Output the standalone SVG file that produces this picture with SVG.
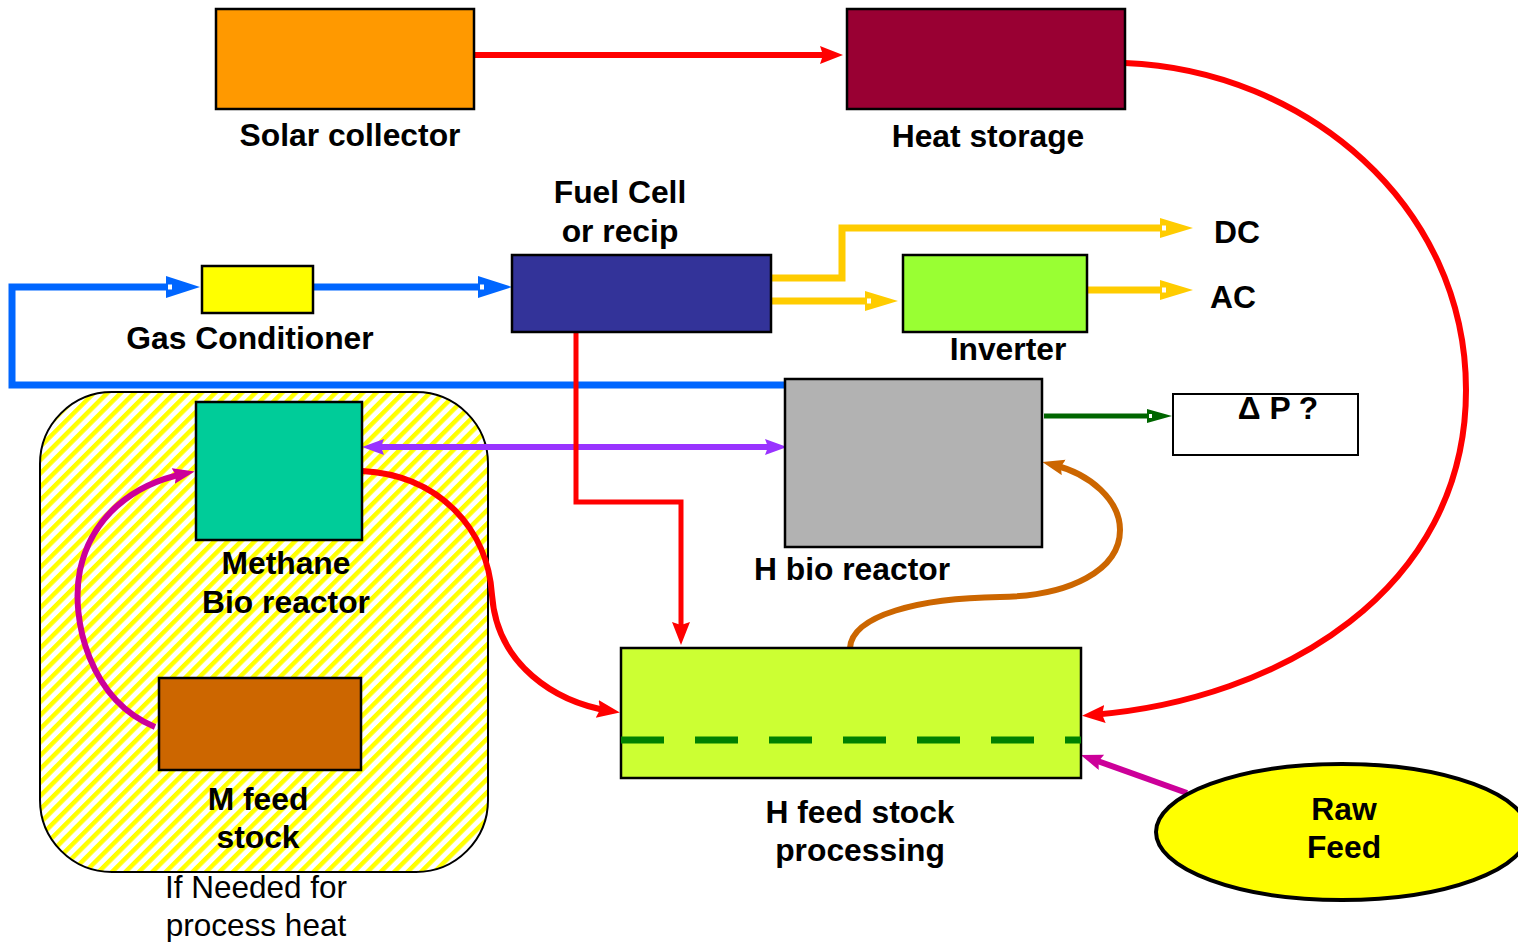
<svg xmlns="http://www.w3.org/2000/svg" width="1518" height="942" viewBox="0 0 1518 942">
<style>
.t{font-family:"Liberation Sans",Arial,sans-serif;font-weight:bold;font-size:31.8px;fill:#000;text-anchor:middle}
.n{font-family:"Liberation Sans",Arial,sans-serif;font-size:31.5px;fill:#000;text-anchor:middle}
.box{stroke:#000;stroke-width:2.5}
.c{fill:none;stroke-linecap:butt;stroke-linejoin:miter}
</style>
<defs>
<pattern id="hatch" width="9.5" height="9.5" patternUnits="userSpaceOnUse" patternTransform="rotate(45)">
<rect width="9.5" height="9.5" fill="#FFFFFF"/>
<rect width="4.5" height="9.5" fill="#FFFF00"/>
</pattern>
<marker id="mRed" markerUnits="userSpaceOnUse" markerWidth="26" markerHeight="20" refX="13" refY="9" orient="auto">
<path d="M0,0 L23,9 L0,18 L3,9 z" fill="#FF0000"/>
</marker>
<marker id="mBlue" markerUnits="userSpaceOnUse" markerWidth="36" markerHeight="24" refX="14" refY="11" orient="auto">
<path d="M0,0 L34,11 L0,22 z" fill="#0066FF"/>
<rect x="2" y="8.5" width="4" height="5" fill="#FFFFFF"/>
</marker>
<marker id="mYel" markerUnits="userSpaceOnUse" markerWidth="34" markerHeight="22" refX="14" refY="10" orient="auto">
<path d="M0,0 L33,10 L0,20 z" fill="#FFCC00"/>
<rect x="2" y="7.5" width="4" height="5" fill="#FFFFFF"/>
</marker>
<marker id="mGrn" markerUnits="userSpaceOnUse" markerWidth="26" markerHeight="16" refX="10" refY="7" orient="auto">
<path d="M0,0 L25,7 L0,14 z" fill="#006600"/>
<rect x="2" y="5" width="3" height="4" fill="#FFFFFF"/>
</marker>
<marker id="mPur" markerUnits="userSpaceOnUse" markerWidth="24" markerHeight="18" refX="10" refY="8" orient="auto-start-reverse">
<path d="M0,0 L22,8 L0,16 L3,8 z" fill="#9933FF"/>
</marker>
<marker id="mOra" markerUnits="userSpaceOnUse" markerWidth="24" markerHeight="18" refX="10" refY="8" orient="auto">
<path d="M0,0 L22,8 L0,16 L3,8 z" fill="#CC6600"/>
</marker>
<marker id="mMag" markerUnits="userSpaceOnUse" markerWidth="24" markerHeight="18" refX="10" refY="8" orient="auto">
<path d="M0,0 L22,8 L0,16 L3,8 z" fill="#CC0099"/>
</marker>
</defs>
<rect width="1518" height="942" fill="#FFFFFF"/>

<g id="process-heat-zone">
<rect x="40" y="392" width="448" height="480" rx="72" ry="72" fill="url(#hatch)" stroke="#000" stroke-width="2"/>
<text class="n" x="256" y="898">If Needed for</text>
<text class="n" x="256" y="936">process heat</text>
</g>

<g id="connectors">
<path class="c" d="M474,55 H833" stroke="#FF0000" stroke-width="6" marker-end="url(#mRed)"/>
<path class="c" d="M1125,63 C1305,70 1466,205 1466,390 C1466,590 1280,700 1092,715" stroke="#FF0000" stroke-width="6" marker-end="url(#mRed)"/>
<path class="c" d="M785,385 H12 V287 H180" stroke="#0066FF" stroke-width="7" marker-end="url(#mBlue)"/>
<path class="c" d="M313,287 H492" stroke="#0066FF" stroke-width="7" marker-end="url(#mBlue)"/>
<path class="c" d="M771,278 H842 V228 H1174" stroke="#FFCC00" stroke-width="7" marker-end="url(#mYel)"/>
<path class="c" d="M771,301 H879" stroke="#FFCC00" stroke-width="7" marker-end="url(#mYel)"/>
<path class="c" d="M1087,290 H1174" stroke="#FFCC00" stroke-width="7" marker-end="url(#mYel)"/>
<path class="c" d="M1044,416 H1157" stroke="#006600" stroke-width="5" marker-end="url(#mGrn)"/>
<path class="c" d="M374,447 H775" stroke="#9933FF" stroke-width="6" marker-start="url(#mPur)" marker-end="url(#mPur)"/>
<path class="c" d="M576,332 V502 H681 V635" stroke="#FF0000" stroke-width="5" marker-end="url(#mRed)"/>
<path class="c" d="M362,471 C440,475 488,530 492,595 C497,665 555,702 610,711" stroke="#FF0000" stroke-width="6" marker-end="url(#mRed)"/>
<path class="c" d="M155,727 C90,700 70,620 80,570 C92,515 135,484 183,474" stroke="#CC0099" stroke-width="6" marker-end="url(#mMag)"/>
<path class="c" d="M1187,793 L1092,759" stroke="#CC0099" stroke-width="6" marker-end="url(#mMag)"/>
<path class="c" d="M850,648 C852,615 920,598 1000,597 C1070,596 1120,570 1120,530 C1120,500 1090,474 1054,465" stroke="#CC6600" stroke-width="6" marker-end="url(#mOra)"/>
</g>

<g id="solar-collector">
<rect class="box" x="216" y="9" width="258" height="100" fill="#FF9900"/>
<text class="t" x="350" y="146">Solar collector</text>
</g>
<g id="heat-storage">
<rect class="box" x="847" y="9" width="278" height="100" fill="#990033"/>
<text class="t" x="988" y="147">Heat storage</text>
</g>
<g id="fuel-cell">
<rect class="box" x="512" y="255" width="259" height="77" fill="#333399"/>
<text class="t" x="620" y="203">Fuel Cell</text>
<text class="t" x="620" y="242">or recip</text>
</g>
<g id="gas-conditioner">
<rect class="box" x="202" y="266" width="111" height="47" fill="#FFFF00"/>
<text class="t" x="250" y="349">Gas Conditioner</text>
</g>
<g id="inverter">
<rect class="box" x="903" y="255" width="184" height="77" fill="#99FF33"/>
<text class="t" x="1008" y="360">Inverter</text>
</g>
<g id="dc">
<text class="t" x="1237" y="243">DC</text>
</g>
<g id="ac">
<text class="t" x="1233" y="308">AC</text>
</g>
<g id="h-bio-reactor">
<rect class="box" x="785" y="379" width="257" height="168" fill="#B2B2B2"/>
<text class="t" x="852" y="580">H bio reactor</text>
</g>
<g id="delta-p">
<rect x="1173" y="394" width="185" height="61" fill="#FFFFFF" stroke="#000" stroke-width="2"/>
<text class="t" x="1278" y="419" font-size="29">Δ P ?</text>
</g>
<g id="methane-bio-reactor">
<rect class="box" x="196" y="402" width="166" height="138" fill="#00CC99"/>
<text class="t" x="286" y="574">Methane</text>
<text class="t" x="286" y="613">Bio reactor</text>
</g>
<g id="m-feed-stock">
<rect class="box" x="159" y="678" width="202" height="92" fill="#CC6600"/>
<text class="t" x="258" y="810">M feed</text>
<text class="t" x="258" y="848">stock</text>
</g>
<g id="h-feed-stock">
<rect class="box" x="621" y="648" width="460" height="130" fill="#CCFF33"/>
<line x1="621" y1="740" x2="1081" y2="740" stroke="#008000" stroke-width="7" stroke-dasharray="43 31"/>
<text class="t" x="860" y="823">H feed stock</text>
<text class="t" x="860" y="861">processing</text>
</g>
<g id="raw-feed">
<ellipse cx="1342" cy="832" rx="186" ry="68" fill="#FFFF00" stroke="#000" stroke-width="4"/>
<text class="t" x="1344" y="820">Raw</text>
<text class="t" x="1344" y="858">Feed</text>
</g>
</svg>
